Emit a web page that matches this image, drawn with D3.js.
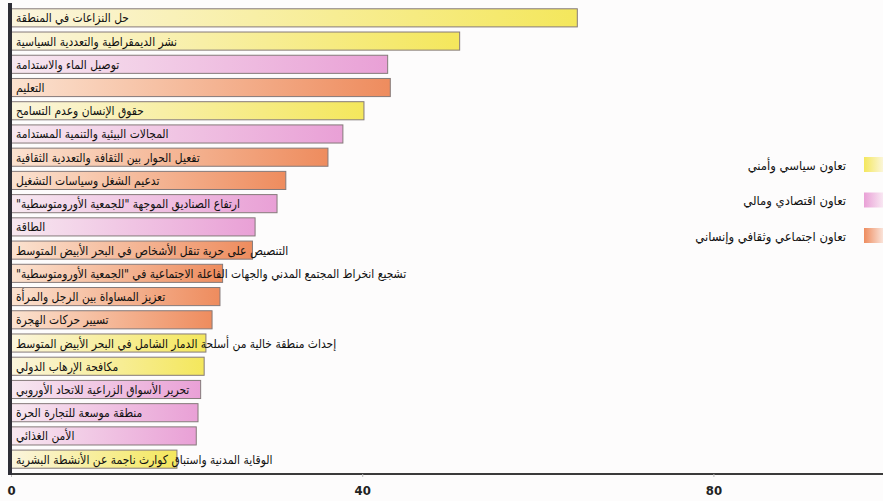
<!DOCTYPE html>
<html>
<head>
<meta charset="utf-8">
<script src="https://cdn.jsdelivr.net/npm/d3@7"></script>
<style>
  html, body { margin: 0; padding: 0; background: #fdfcfc; }
  svg { display: block; }
</style>
</head>
<body>
<div id="chart"></div>
<script>
/* DATA */
const labels = [
  "حل النزاعات في المنطقة",
  "نشر الديمقراطية والتعددية السياسية",
  "توصيل الماء والاستدامة",
  "التعليم",
  "حقوق الإنسان وعدم التسامح",
  "المجالات البيئية والتنمية المستدامة",
  "تفعيل الحوار بين الثقافة والتعددية الثقافية",
  "تدعيم الشغل وسياسات التشغيل",
  "ارتفاع الصناديق الموجهة \"للجمعية الأورومتوسطية\"",
  "الطاقة",
  "التنصيص على حرية تنقل الأشخاص في البحر الأبيض المتوسط",
  "تشجيع انخراط المجتمع المدني والجهات الفاعلة الاجتماعية في \"الجمعية الأورومتوسطية\"",
  "تعزيز المساواة بين الرجل والمرأة",
  "تسيير حركات الهجرة",
  "إحداث منطقة خالية من أسلحة الدمار الشامل في البحر الأبيض المتوسط",
  "مكافحة الإرهاب الدولي",
  "تحرير الأسواق الزراعية للاتحاد الأوروبي",
  "منطقة موسعة للتجارة الحرة",
  "الأمن الغذائي",
  "الوقاية المدنية واستباق كوارث ناجمة عن الأنشطة البشرية"
];
const values = [64.5, 51.1, 42.9, 43.2, 40.2, 37.8, 36.1, 31.3, 30.3, 27.8,
                27.5, 24.1, 23.8, 22.9, 22.2, 22.0, 21.6, 21.3, 21.1, 18.9];
// 0 = political/security, 1 = economic/financial, 2 = social/cultural/human
const groups = [0, 0, 1, 2, 0, 1, 2, 2, 1, 1, 2, 2, 2, 2, 0, 0, 1, 1, 1, 0];
const groupNames = ["تعاون سياسي وأمني", "تعاون اقتصادي ومالي", "تعاون اجتماعي وثقافي وإنساني"];
const tickValues = [0, 40, 80];

/* LAYOUT */
const width = 883, height = 501;
const colorsLight = ["#fbf5de", "#f7e8f0", "#fbe2d0"];
const colorsDark = ["#f4e75c", "#e9a0d6", "#ee8c5e"];
const squeeze = 0.86; // arabic fallback font is wider than the original one

const svg = d3.select("#chart").append("svg")
  .attr("width", width)
  .attr("height", height);

const defs = svg.append("defs");
groupNames.forEach((g, i) => {
  const grad = defs.append("linearGradient").attr("id", "bar" + i)
    .attr("x1", "0").attr("x2", "1").attr("y1", "0").attr("y2", "0");
  grad.append("stop").attr("offset", "0%").attr("stop-color", colorsLight[i]);
  grad.append("stop").attr("offset", "100%").attr("stop-color", colorsDark[i]);
  const grad2 = defs.append("linearGradient").attr("id", "key" + i)
    .attr("x1", "0").attr("x2", "1").attr("y1", "0").attr("y2", "0");
  grad2.append("stop").attr("offset", "0%").attr("stop-color", colorsDark[i]);
  grad2.append("stop").attr("offset", "100%").attr("stop-color", "#fdfafa");
});

const x = d3.scaleLinear().domain([0, 100]).range([11, 889]);
const y = d3.scaleBand().domain(labels).range([6, 471])
  .paddingInner(0.22).paddingOuter(0.12);

const rows = labels.map((l, i) => ({label: l, value: values[i], group: groups[i]}));

// bars
svg.append("g").selectAll("rect")
  .data(rows)
  .join("rect")
  .attr("x", x(0))
  .attr("y", d => y(d.label))
  .attr("width", d => x(d.value) - x(0))
  .attr("height", y.bandwidth())
  .attr("fill", d => "url(#bar" + d.group + ")")
  .attr("stroke", "#857a7a")
  .attr("stroke-width", 1);

// labels inside bars (right-to-left text anchored at the left edge)
svg.append("g").selectAll("text")
  .data(rows)
  .join("text")
  .attr("transform", d => "translate(" + (x(0) + 5) + "," + (y(d.label) + y.bandwidth() / 2) + ") scale(" + squeeze + ",1)")
  .attr("dy", "0.36em")
  .attr("direction", "rtl")
  .attr("text-anchor", "end")
  .style("font-family", "'DejaVu Sans', sans-serif")
  .style("font-size", "12.5px")
  .attr("fill", "#111")
  .text(d => d.label);

// x axis
const xAxis = svg.append("g").attr("transform", "translate(0,474)")
  .call(d3.axisBottom(x).tickValues(tickValues).tickSize(3).tickPadding(9));
xAxis.select(".domain").attr("stroke", "#3a3a3a").attr("stroke-width", 2)
  .attr("d", "M8,0H" + width);
xAxis.selectAll(".tick line").attr("stroke", "#bbb");
xAxis.selectAll(".tick text")
  .style("font-family", "'Liberation Sans Narrow', 'DejaVu Sans Condensed', sans-serif")
  .style("font-weight", "bold")
  .style("font-size", "13px")
  .attr("fill", "#222");

// y axis line
svg.append("line")
  .attr("x1", 10).attr("x2", 10)
  .attr("y1", 3).attr("y2", 475)
  .attr("stroke", "#2e2e36")
  .attr("stroke-width", 4);

// legend
const legend = svg.append("g").selectAll("g")
  .data(groupNames)
  .join("g")
  .attr("transform", (d, i) => "translate(0," + (165 + i * 35.5) + ")");
legend.append("rect")
  .attr("x", 864).attr("y", -8)
  .attr("width", 24).attr("height", 15)
  .attr("fill", (d, i) => "url(#key" + i + ")");
legend.append("text")
  .attr("transform", "translate(846,0) scale(0.93,1)")
  .attr("dy", "0.36em")
  .attr("direction", "rtl")
  .attr("text-anchor", "start")
  .style("font-family", "'DejaVu Sans', sans-serif")
  .style("font-size", "12.5px")
  .attr("fill", "#111")
  .text(d => d);
</script>
</body>
</html>
